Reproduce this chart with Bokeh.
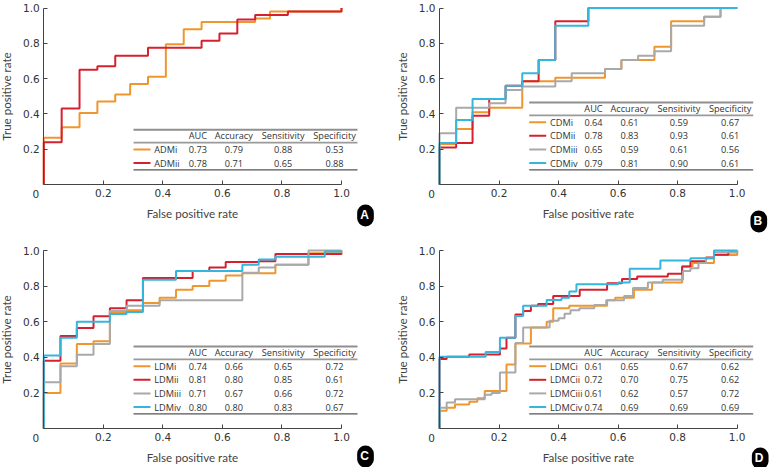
from bokeh.plotting import figure
from bokeh.layouts import column, row
from bokeh.models import Range1d, FixedTicker, Label, PrintfTickFormatter
from bokeh.core.properties import value
from bokeh.embed import file_html
from bokeh.resources import INLINE

ORANGE = "#F0962E"
RED = "#D6202F"
GRAY = "#A9A9A9"
CYAN = "#35B6DD"

metrics = ["AUC", "Accuracy", "Sensitivity", "Specificity"]
axis_ticks = [0.2, 0.4, 0.6, 0.8, 1.0]

# ---------------- Panel A ----------------
a_names = ["ADMi", "ADMii"]
a_auc = [0.73, 0.78]
a_acc = [0.79, 0.71]
a_sen = [0.88, 0.65]
a_spe = [0.53, 0.88]
a_admi_fpr = [0, 0, 0.06, 0.12, 0.18, 0.24, 0.29, 0.35, 0.41, 0.47, 0.53, 0.71, 0.76, 1.0]
a_admi_tpr = [0, 0.265, 0.325, 0.405, 0.47, 0.51, 0.57, 0.61, 0.795, 0.88, 0.92, 0.94, 0.98, 1.0]
a_admii_fpr = [0, 0, 0.06, 0.12, 0.18, 0.24, 0.35, 0.53, 0.59, 0.65, 0.71, 0.82, 1.0]
a_admii_tpr = [0, 0.24, 0.43, 0.65, 0.67, 0.73, 0.775, 0.815, 0.855, 0.935, 0.96, 0.98, 1.0]

# ---------------- Panel B ----------------
b_names = ["CDMi", "CDMii", "CDMiii", "CDMiv"]
b_auc = [0.64, 0.78, 0.65, 0.79]
b_acc = [0.61, 0.83, 0.59, 0.81]
b_sen = [0.59, 0.93, 0.61, 0.90]
b_spe = [0.67, 0.61, 0.56, 0.61]
b_cdmi_fpr = [0, 0, 0.056, 0.111, 0.167, 0.278, 0.389, 0.556, 0.611, 0.722, 0.778, 0.889, 0.944, 1.0]
b_cdmi_tpr = [0, 0.23, 0.315, 0.41, 0.435, 0.585, 0.605, 0.655, 0.705, 0.78, 0.925, 0.95, 1.0, 1.0]
b_cdmii_fpr = [0, 0, 0.056, 0.111, 0.167, 0.222, 0.278, 0.333, 0.389, 0.5, 1.0]
b_cdmii_tpr = [0, 0.21, 0.235, 0.39, 0.485, 0.56, 0.585, 0.705, 0.925, 1.0, 1.0]
b_cdmiii_fpr = [0, 0, 0.056, 0.167, 0.222, 0.278, 0.389, 0.444, 0.556, 0.611, 0.667, 0.722, 0.778, 0.889, 0.944, 1.0]
b_cdmiii_tpr = [0, 0.29, 0.435, 0.46, 0.535, 0.555, 0.585, 0.63, 0.655, 0.705, 0.73, 0.755, 0.90, 0.95, 1.0, 1.0]
b_cdmiv_fpr = [0, 0, 0.056, 0.111, 0.222, 0.278, 0.333, 0.389, 0.5, 1.0]
b_cdmiv_tpr = [0, 0.235, 0.365, 0.485, 0.56, 0.63, 0.705, 0.90, 1.0, 1.0]

# ---------------- Panel C ----------------
c_names = ["LDMi", "LDMii", "LDMiii", "LDMiv"]
c_auc = [0.74, 0.81, 0.71, 0.80]
c_acc = [0.66, 0.80, 0.67, 0.80]
c_sen = [0.65, 0.85, 0.66, 0.83]
c_spe = [0.72, 0.61, 0.72, 0.67]
c_ldmi_fpr = [0, 0, 0.056, 0.111, 0.167, 0.222, 0.278, 0.333, 0.389, 0.444, 0.5, 0.556, 0.611, 0.667, 0.778, 0.889, 1.0]
c_ldmi_tpr = [0, 0.20, 0.365, 0.475, 0.49, 0.655, 0.665, 0.705, 0.735, 0.78, 0.80, 0.83, 0.86, 0.872, 0.92, 0.985, 1.0]
c_ldmii_fpr = [0, 0, 0.056, 0.111, 0.167, 0.222, 0.278, 0.333, 0.5, 0.556, 0.611, 0.722, 0.778, 1.0]
c_ldmii_tpr = [0, 0.38, 0.52, 0.565, 0.63, 0.675, 0.72, 0.845, 0.885, 0.905, 0.935, 0.94, 0.98, 0.985]
c_ldmiii_fpr = [0, 0, 0.056, 0.111, 0.167, 0.222, 0.278, 0.389, 0.667, 0.722, 0.778, 0.889, 1.0]
c_ldmiii_tpr = [0, 0.26, 0.35, 0.415, 0.475, 0.66, 0.69, 0.72, 0.875, 0.905, 0.92, 1.0, 1.0]
c_ldmiv_fpr = [0, 0, 0.056, 0.111, 0.222, 0.278, 0.333, 0.444, 0.667, 0.722, 0.778, 0.944, 1.0]
c_ldmiv_tpr = [0, 0.41, 0.51, 0.60, 0.643, 0.655, 0.835, 0.885, 0.92, 0.95, 0.965, 0.995, 1.0]

# ---------------- Panel D ----------------
d_names = ["LDMCi", "LDMCii", "LDMCiii", "LDMCiv"]
d_auc = [0.61, 0.72, 0.61, 0.74]
d_acc = [0.65, 0.70, 0.62, 0.69]
d_sen = [0.67, 0.75, 0.57, 0.69]
d_spe = [0.62, 0.62, 0.72, 0.69]
d_ldmci_fpr = [0, 0, 0.024, 0.052, 0.10, 0.127, 0.152, 0.225, 0.255, 0.307, 0.36, 0.382, 0.436,
               0.563, 0.59, 0.653, 0.714, 0.815, 0.85, 0.922, 1.0]
d_ldmci_tpr = [0, 0.10, 0.116, 0.135, 0.15, 0.17, 0.21, 0.36, 0.478, 0.567, 0.60, 0.675, 0.69,
               0.72, 0.735, 0.78, 0.82, 0.91, 0.93, 0.975, 0.99]
d_ldmcii_fpr = [0, 0, 0.024, 0.10, 0.203, 0.225, 0.255, 0.281, 0.307, 0.331, 0.382, 0.471, 0.563,
                0.613, 0.664, 0.767, 0.815, 0.843, 0.895, 0.922, 0.97, 1.0]
d_ldmcii_tpr = [0, 0.39, 0.403, 0.416, 0.45, 0.51, 0.64, 0.66, 0.69, 0.70, 0.745, 0.78, 0.816,
                0.84, 0.854, 0.87, 0.91, 0.94, 0.96, 0.976, 0.99, 1.0]
d_ldmciii_fpr = [0, 0, 0.024, 0.052, 0.152, 0.175, 0.203, 0.255, 0.281, 0.37, 0.40, 0.42, 0.44, 0.47,
                 0.52, 0.56, 0.62, 0.65, 0.70, 0.75, 0.818, 0.843, 0.87, 0.895, 0.922, 1.0]
d_ldmciii_tpr = [0, 0.116, 0.146, 0.165, 0.19, 0.20, 0.315, 0.48, 0.567, 0.605, 0.62, 0.645, 0.665, 0.675,
                 0.694, 0.72, 0.745, 0.79, 0.82, 0.835, 0.885, 0.90, 0.93, 0.957, 0.99, 1.0]
d_ldmciv_fpr = [0, 0, 0.155, 0.203, 0.255, 0.281, 0.36, 0.41, 0.436, 0.46, 0.60, 0.639, 0.742, 0.843, 0.922, 1.0]
d_ldmciv_tpr = [0, 0.403, 0.43, 0.51, 0.632, 0.689, 0.722, 0.735, 0.77, 0.81, 0.82, 0.897, 0.944, 0.957, 1.0, 1.0]

TABLE_FONT = value("Open Sans")
TABLE_SIZE = "9.2px"
TICK_FONT = "DejaVu Sans"
TICK_SIZE = "10.5px"
TITLE_FONT = "Lato"
TITLE_SIZE = "11.6px"

XPU = 297.7                 # pixels per x unit
COL_W = [385, 386]          # figure widths
ROW_H = [233, 234]          # figure heights
ORIGIN_X = [43.3, 54.0]     # x=0 position inside each figure (px from left)
Y_TOP = [7.5, 17.0]         # y=1 position inside each figure (px from top)
Y_ZERO = [184.0, 195.0]     # y=0 position inside each figure (px from top)


def make_panel(letter, letter_dx, letter_dy, curves, names, auc, acc, sen, spe, col, rw):
    W, H = COL_W[col], ROW_H[rw]
    ox = ORIGIN_X[col]
    ypu = Y_ZERO[rw] - Y_TOP[rw]

    def px(v):
        return v / XPU

    def py(v):
        return v / ypu

    x_range = Range1d(-ox / XPU, (W - ox) / XPU)
    y_range = Range1d(-(H - Y_ZERO[rw]) / ypu, Y_ZERO[rw] / ypu)
    p = figure(width=W, height=H, output_backend="svg", toolbar_location=None,
               x_range=x_range, y_range=y_range,
               min_border_left=0, min_border_right=0, min_border_top=0, min_border_bottom=0)
    p.grid.visible = False
    p.outline_line_color = None
    p.xaxis.fixed_location = 0
    p.yaxis.fixed_location = 0

    for ax in (p.xaxis, p.yaxis):
        ax.ticker = FixedTicker(ticks=axis_ticks)
        ax.formatter = PrintfTickFormatter(format="%.1f")
        ax.bounds = (0, 1)
        ax.major_tick_in = 4
        ax.major_tick_out = 0
        ax.minor_tick_line_color = None
        ax.axis_line_color = "#444444"
        ax.major_tick_line_color = "#444444"
        ax.major_label_text_font = TICK_FONT
        ax.major_label_text_font_size = TICK_SIZE
        ax.major_label_text_color = "#333333"
        ax.major_label_standoff = 4
        ax.axis_label_text_font = TITLE_FONT
        ax.axis_label_text_font_size = TITLE_SIZE
        ax.axis_label_text_font_style = "normal"
        ax.axis_label_text_color = "#444444"
    p.xaxis.axis_label_standoff = 7
    p.yaxis.axis_label_standoff = 7
    p.xaxis.axis_label = "False positive rate"
    p.yaxis.axis_label = "True positive rate"

    # shared origin label "0" (below-left of the axes corner)
    p.text(x=[0], y=[0], text=["0"], x_offset=-8, y_offset=9.7, text_align="center",
           text_baseline="middle", text_font=value(TICK_FONT), text_font_size=TICK_SIZE,
           text_color="#333333")

    for fpr, tpr, color in curves:
        p.step(fpr, tpr, mode="after", line_width=2, line_color=color)

    # summary table (positions in screen pixels from the origin)
    n = len(names)
    rows_px = [21.5 + 13.6 * (n - 1 - i) for i in range(n)]
    hline_px = rows_px[0] + 6.8
    head_px = hline_px + 6.7
    top_px = head_px + 6.2
    bottom_px = 14.7
    rows_y = [py(v) for v in rows_px]
    tx0, tx1 = px(89.7), px(313.7)
    p.segment(x0=[tx0], y0=[py(top_px)], x1=[tx1], y1=[py(top_px)], line_color="#8f8f8f", line_width=2)
    p.segment(x0=[tx0], y0=[py(hline_px)], x1=[tx1], y1=[py(hline_px)], line_color="#9a9a9a", line_width=1.6)
    p.segment(x0=[tx0], y0=[py(bottom_px)], x1=[tx1], y1=[py(bottom_px)], line_color="#555555", line_width=1.2)
    colors = [c for _, _, c in curves]
    p.segment(x0=[px(89.7)] * n, y0=rows_y, x1=[px(106.7)] * n, y1=rows_y, line_color=colors, line_width=2)
    p.text(x=[px(110.5)] * n, y=rows_y, text=names, text_font=TABLE_FONT, text_font_size=TABLE_SIZE,
           text_color="#333333", text_align="left", text_baseline="middle")
    col_x = [px(154), px(190), px(239.4), px(290.7)]
    p.text(x=col_x, y=[py(head_px)] * 4, text=metrics, text_font=TABLE_FONT, text_font_size=TABLE_SIZE,
           text_color="#333333", text_align="center", text_baseline="middle")
    for cx, vals in zip(col_x, [auc, acc, sen, spe]):
        p.text(x=[cx] * n, y=rows_y, text=[f"{v:.2f}" for v in vals], text_font=TABLE_FONT,
               text_font_size=TABLE_SIZE, text_color="#333333", text_align="center",
               text_baseline="middle")

    p.add_layout(Label(x=1.0 + px(letter_dx), y=-py(letter_dy), text=letter, text_color="white",
                       text_font="Liberation Sans", text_font_style="bold", text_font_size="12px",
                       text_align="center", text_baseline="middle",
                       background_fill_color="black", background_fill_alpha=1.0,
                       border_radius=10, padding=(3, 5, 3, 5)))
    return p


pA = make_panel("A", 24, 31, [(a_admi_fpr, a_admi_tpr, ORANGE), (a_admii_fpr, a_admii_tpr, RED)],
                a_names, a_auc, a_acc, a_sen, a_spe, 0, 0)
pB = make_panel("B", 21.6, 37, [(b_cdmi_fpr, b_cdmi_tpr, ORANGE), (b_cdmii_fpr, b_cdmii_tpr, RED),
                                (b_cdmiii_fpr, b_cdmiii_tpr, GRAY), (b_cdmiv_fpr, b_cdmiv_tpr, CYAN)],
                b_names, b_auc, b_acc, b_sen, b_spe, 1, 0)
pC = make_panel("C", 24, 28, [(c_ldmi_fpr, c_ldmi_tpr, ORANGE), (c_ldmii_fpr, c_ldmii_tpr, RED),
                              (c_ldmiii_fpr, c_ldmiii_tpr, GRAY), (c_ldmiv_fpr, c_ldmiv_tpr, CYAN)],
                c_names, c_auc, c_acc, c_sen, c_spe, 0, 1)
pD = make_panel("D", 23, 30, [(d_ldmci_fpr, d_ldmci_tpr, ORANGE), (d_ldmcii_fpr, d_ldmcii_tpr, RED),
                              (d_ldmciii_fpr, d_ldmciii_tpr, GRAY), (d_ldmciv_fpr, d_ldmciv_tpr, CYAN)],
                d_names, d_auc, d_acc, d_sen, d_spe, 1, 1)

layout = column(row(pA, pB), row(pC, pD))
open("out.html", "w").write(file_html(layout, INLINE))
